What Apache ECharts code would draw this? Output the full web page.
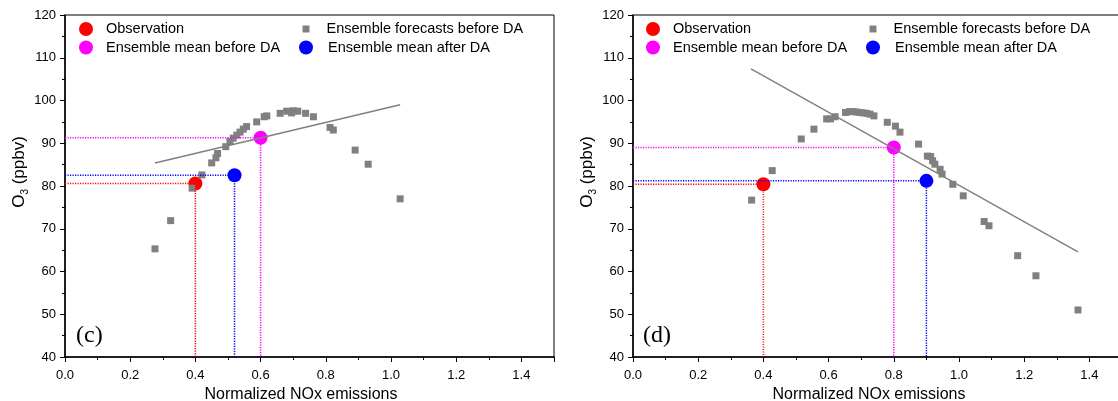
<!DOCTYPE html>
<html>
<head>
<meta charset="utf-8">
<script src="https://cdn.jsdelivr.net/npm/echarts@6/dist/echarts.min.js"></script>
<style>
html,body{margin:0;padding:0;background:#fff;}
#chart{width:1118px;height:401px;}
</style>
</head>
<body>
<div id="chart"></div>
<script>
// ---------- axis settings ----------
const xMin = 0, xMax = 1.5, xMajor = 0.2, xMinor = 0.1;
const yMin = 40, yMax = 120, yMajor = 10;
const xTickLabels = ['0.0','0.2','0.4','0.6','0.8','1.0','1.2','1.4'];
const xTitle = 'Normalized NOx emissions';
const panelLabels = ['(c)', '(d)'];
const seriesNames = ['Observation', 'Ensemble forecasts before DA', 'Ensemble mean before DA', 'Ensemble mean after DA'];

// ---------- panel (c) ----------
const cEnsemble = [[0.276,65.3],[0.324,71.9],[0.390,79.5],[0.420,82.6],[0.450,85.4],[0.463,86.6],[0.468,87.6],[0.493,89.2],[0.506,90.4],[0.516,91.2],[0.527,91.9],[0.537,92.6],[0.547,93.3],[0.557,93.9],[0.588,95.0],[0.611,96.2],[0.619,96.4],[0.660,97.0],[0.680,97.5],[0.695,97.1],[0.700,97.6],[0.714,97.5],[0.738,97.0],[0.762,96.2],[0.813,93.7],[0.823,93.1],[0.890,88.4],[0.930,85.1],[1.028,77.0]];
const cObs = [0.40, 80.6];
const cMeanBefore = [0.60, 91.3];
const cMeanAfter = [0.52, 82.5];
const cFit = [[0.276, 85.4], [1.028, 99.0]];

// ---------- panel (d) ----------
const dEnsemble = [[0.364,76.7],[0.427,83.6],[0.516,91.0],[0.555,93.3],[0.594,95.7],[0.606,95.7],[0.620,96.2],[0.652,97.2],[0.664,97.4],[0.676,97.4],[0.686,97.3],[0.696,97.2],[0.706,97.1],[0.717,97.0],[0.727,96.8],[0.739,96.4],[0.780,94.9],[0.805,94.0],[0.819,92.6],[0.876,89.8],[0.903,87.0],[0.913,86.9],[0.919,85.9],[0.926,85.1],[0.942,83.9],[0.948,82.8],[0.981,80.4],[1.013,77.7],[1.077,71.7],[1.092,70.7],[1.180,63.7],[1.236,59.0],[1.365,51.0]];
const dObs = [0.40, 80.4];
const dMeanBefore = [0.80, 89.0];
const dMeanAfter = [0.90, 81.2];
const dFit = [[0.362, 107.4], [1.365, 64.6]];

// ---------- styles ----------
const FONT = 'Liberation Sans, Arial, sans-serif';
const C_OBS = '#ff0000', C_BEFORE = '#ff00ff', C_AFTER = '#0000ff', C_ENS = '#808080';

const panels = [
  {ens: cEnsemble, obs: cObs, before: cMeanBefore, after: cMeanAfter, fit: cFit, left: 65, dx: 0},
  {ens: dEnsemble, obs: dObs, before: dMeanBefore, after: dMeanAfter, fit: dFit, left: 633, dx: 567}
];

const grids = [], xAxes = [], yAxes = [], series = [], legends = [], titles = [];

function guide(pt) { return [[xMin, pt[1]], [pt[0], pt[1]], [pt[0], yMin]]; }

panels.forEach((p, i) => {
  grids.push({left: p.left, top: 15, width: 489, height: 342, show: true, borderColor: '#000', borderWidth: 1,
    containLabel: false, outerBoundsMode: 'none'});
  // main x axis (minor ticks + labels)
  xAxes.push({
    gridIndex: i, type: 'value', position: 'bottom', min: xMin, max: xMax, interval: xMinor,
    axisLine: {show: true, onZero: false, lineStyle: {color: '#000', width: 1.5}},
    axisTick: {show: true, length: 3, lineStyle: {color: '#000', width: 1}},
    axisLabel: {
      color: '#000', fontSize: 13, fontFamily: FONT, margin: 12, showMaxLabel: false, showMinLabel: true,
      formatter: v => { const k = Math.round(v / xMajor * 1000) / 1000; return Number.isInteger(k) && xTickLabels[k] ? xTickLabels[k] : ''; }
    },
    splitLine: {show: false},
    name: xTitle, nameLocation: 'middle', nameGap: 24,
    nameTextStyle: {color: '#000', fontSize: 16, fontFamily: FONT, padding: [0, 17, 0, 0]}
  });
  // major tick overlay
  xAxes.push({
    gridIndex: i, type: 'value', position: 'bottom', min: xMin, max: xMax, interval: xMajor,
    axisLine: {show: false}, axisTick: {show: true, length: 5, lineStyle: {color: '#000', width: 1}},
    axisLabel: {show: false}, splitLine: {show: false}
  });
  yAxes.push({
    gridIndex: i, type: 'value', min: yMin, max: yMax, interval: yMajor,
    axisLine: {show: true, lineStyle: {color: '#000', width: 1.5}},
    axisTick: {show: true, length: 5, lineStyle: {color: '#000', width: 1}},
    minorTick: {show: true, splitNumber: 2, length: 3, lineStyle: {color: '#000', width: 1}},
    axisLabel: {color: '#000', fontSize: 13, fontFamily: FONT, margin: 9},
    splitLine: {show: false}, minorSplitLine: {show: false},
    name: '{o|O}{s|3}{o| (ppbv)}', nameLocation: 'middle', nameGap: 33, nameRotate: 90,
    nameTextStyle: {
      color: '#000', fontFamily: FONT, padding: [0, 0, 0, 28],
      rich: {
        o: {fontSize: 17, fontFamily: FONT, color: '#000', lineHeight: 22},
        s: {fontSize: 10, fontFamily: FONT, color: '#000', lineHeight: 22, verticalAlign: 'bottom', padding: [6, 0, 0, 0]}
      }
    }
  });
  const xi = i * 2, yi = i;
  const dotted = [1.2, 1.3];
  series.push(
    {name: 'obs guide ' + i, type: 'line', xAxisIndex: xi, yAxisIndex: yi, data: guide(p.obs), symbol: 'none', silent: true,
      lineStyle: {color: C_OBS, width: 1.5, type: dotted}},
    {name: 'after guide ' + i, type: 'line', xAxisIndex: xi, yAxisIndex: yi, data: guide(p.after), symbol: 'none', silent: true,
      lineStyle: {color: C_AFTER, width: 1.5, type: dotted}},
    {name: 'before guide ' + i, type: 'line', xAxisIndex: xi, yAxisIndex: yi, data: guide(p.before), symbol: 'none', silent: true,
      lineStyle: {color: C_BEFORE, width: 1.5, type: dotted}},
    {name: seriesNames[0], type: 'scatter', xAxisIndex: xi, yAxisIndex: yi, data: [p.obs], symbol: 'circle', symbolSize: 14,
      itemStyle: {color: C_OBS, opacity: 1}},
    {name: seriesNames[1], type: 'scatter', xAxisIndex: xi, yAxisIndex: yi, data: p.ens, symbol: 'rect', symbolSize: 7,
      itemStyle: {color: C_ENS, opacity: 1}},
    {name: 'Linear fit ' + i, type: 'line', xAxisIndex: xi, yAxisIndex: yi, data: p.fit, symbol: 'none', silent: true,
      lineStyle: {color: C_ENS, width: 1.5}},
    {name: seriesNames[2], type: 'scatter', xAxisIndex: xi, yAxisIndex: yi, data: [p.before], symbol: 'circle', symbolSize: 14,
      itemStyle: {color: C_BEFORE, opacity: 1}},
    {name: seriesNames[3], type: 'scatter', xAxisIndex: xi, yAxisIndex: yi, data: [p.after], symbol: 'circle', symbolSize: 14,
      itemStyle: {color: C_AFTER, opacity: 1}}
  );
  // legend entries (2 x 2 layout)
  const L = (name, cx, cy, icon, size, pad) => ({
    left: cx - size / 2 + p.dx, top: cy - 8.5, padding: 0, itemGap: 0, selectedMode: false,
    itemWidth: size, itemHeight: size, icon: icon, data: [name],
    itemStyle: {opacity: 1},
    textStyle: {color: '#000', fontSize: 14.5, fontFamily: FONT, padding: [0, 0, 0, pad]}
  });
  legends.push(
    L(seriesNames[0], 86, 30, 'circle', 14, 8),
    L(seriesNames[2], 86, 48.5, 'circle', 14, 8),
    L(seriesNames[1], 306, 30, 'rect', 7, 12),
    L(seriesNames[3], 306, 48.5, 'circle', 14, 10)
  );
  titles.push({text: panelLabels[i], left: 76 + p.dx, top: 324, padding: 0,
    textStyle: {fontFamily: 'Liberation Serif, Times New Roman, serif', fontSize: 24, fontWeight: 'normal', color: '#000'}});
});

const chart = echarts.init(document.getElementById('chart'), null, {renderer: 'canvas'});
chart.setOption({
  animation: false,
  backgroundColor: '#fff',
  title: titles,
  legend: legends,
  grid: grids,
  xAxis: xAxes,
  yAxis: yAxes,
  series: series
});
</script>
</body>
</html>
